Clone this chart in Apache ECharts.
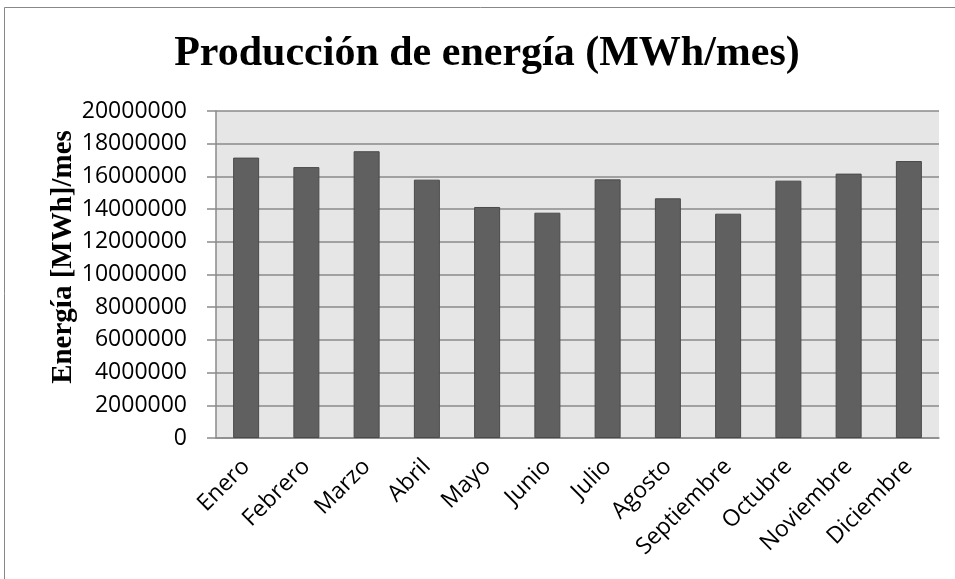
<!DOCTYPE html>
<html>
<head>
<meta charset="utf-8">
<script src="https://cdn.jsdelivr.net/npm/echarts@6/dist/echarts.min.js"></script>
<style>
html,body{margin:0;padding:0;background:#fff;}
#chart{width:955px;height:579px;}
</style>
</head>
<body>
<div id="chart"></div>
<script>
var titleText = 'Producción de energía (MWh/mes)';
var yAxisTitle = 'Energía [MWh]/mes';
var months = ['Enero','Febrero','Marzo','Abril','Mayo','Junio','Julio','Agosto','Septiembre','Octubre','Noviembre','Diciembre'];
var energy = [17150000, 16570000, 17540000, 15800000, 14130000, 13780000, 15820000, 14660000, 13720000, 15740000, 16170000, 16940000];
var yMin = 0, yMax = 20000000, yStep = 2000000;

var chart = echarts.init(document.getElementById('chart'), null, {renderer:'canvas'});
var gridColor = '#8a8a8a';
var labelFont = '"Open Sans", "Liberation Sans", sans-serif';
chart.setOption({
  animation: false,
  backgroundColor: '#ffffff',
  graphic: [
    {type:'rect', shape:{x:4.5, y:7.5, width:1000, height:1000}, style:{fill:'none', stroke:'#888888', lineWidth:1}, z:-10, silent:true},
    {type:'text', x:487, y:54, style:{text:titleText, font:'bold 42px "Liberation Serif", "Times New Roman", serif', fill:'#000', align:'center', verticalAlign:'middle'}},
    {type:'text', x:64, y:257, rotation:Math.PI/2, style:{text:yAxisTitle, font:'bold 29px "Liberation Serif", "Times New Roman", serif', fill:'#000', align:'center', verticalAlign:'middle'}}
  ],
  grid: {left:216, right:16, top:111, bottom:141, show:true, backgroundColor:'#e6e6e6', borderWidth:0},
  xAxis: {
    type:'category', data: months,
    axisLine:{show:true, lineStyle:{color:gridColor, width:1.5}},
    axisTick:{show:false},
    axisLabel:{rotate:45, margin:25, fontSize:23, fontFamily:labelFont, color:'#000'}
  },
  yAxis: {
    type:'value', min:yMin, max:yMax, interval:yStep,
    axisLine:{show:true, lineStyle:{color:gridColor, width:1.5}},
    axisTick:{show:true, length:9, lineStyle:{color:gridColor, width:1.5}},
    splitLine:{show:true, lineStyle:{color:gridColor, width:1.5}},
    axisLabel:{margin:29, fontSize:23, fontFamily:labelFont, color:'#000', formatter:function(v){return String(v);}}
  },
  series: [{
    type:'bar', data: energy, barWidth:26,
    itemStyle:{color:'#606060', borderColor:'#4a4a4a', borderWidth:1}
  }]
});
</script>
</body>
</html>
